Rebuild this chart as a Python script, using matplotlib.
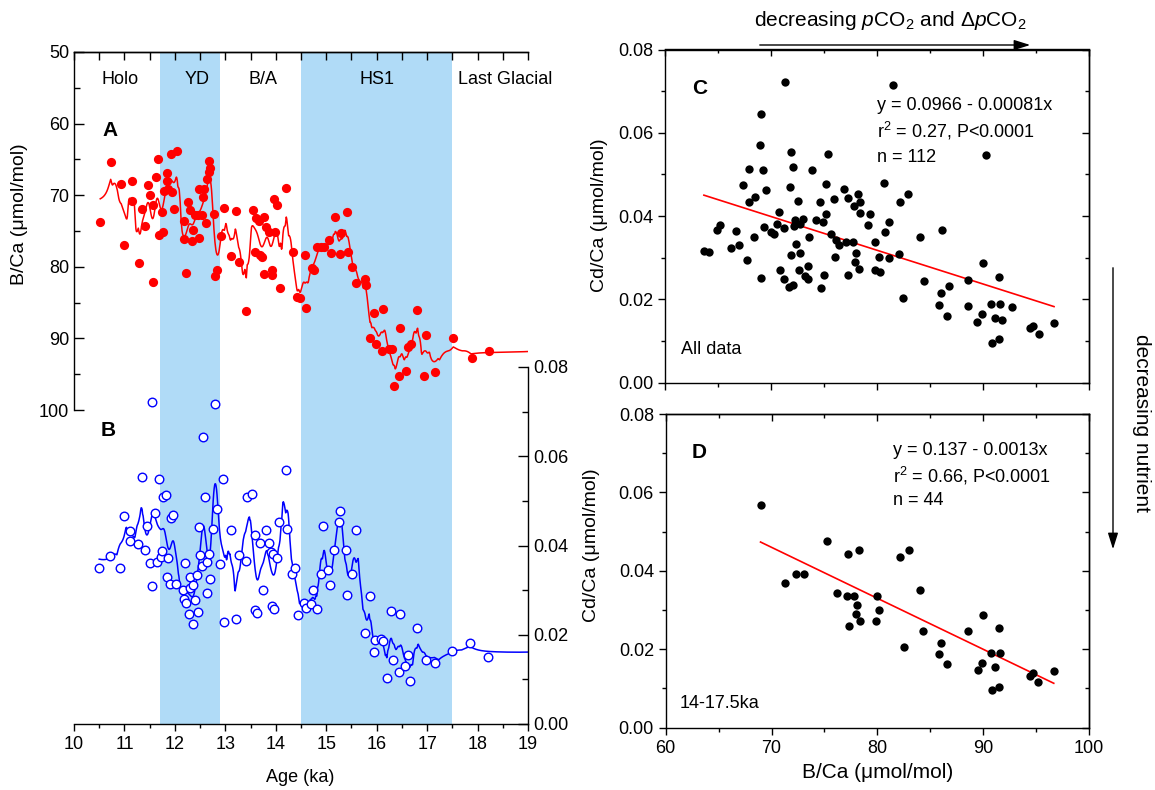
import matplotlib
matplotlib.use("Agg")
import matplotlib.pyplot as plt
import matplotlib.patches as mpatches
from matplotlib.ticker import FormatStrFormatter
import numpy as np

plt.rcParams["font.family"] = ["Liberation Sans", "DejaVu Sans"]
plt.rcParams["mathtext.fontset"] = "custom"
plt.rcParams["mathtext.rm"] = "Liberation Sans"
plt.rcParams["mathtext.it"] = "Liberation Sans:italic"
plt.rcParams["axes.linewidth"] = 1.0

# ---- panel A: B/Ca record (red) ----
bca_age = [
    10.52, 10.73, 10.93, 11.14, 11.14, 11.00, 11.28, 11.35, 11.41, 11.47,
    11.51, 11.57, 11.57, 11.62, 11.66, 11.69, 11.76, 11.74, 11.78, 11.84,
    11.84, 11.86, 11.94, 11.93, 12.04, 11.99, 12.19, 12.18, 12.22, 12.26,
    12.29, 12.33, 12.35, 12.39, 12.45, 12.47, 12.48, 12.53, 12.55, 12.58,
    12.62, 12.64, 12.68, 12.70, 12.68, 12.78, 12.80, 12.84, 12.91, 12.98,
    13.12, 13.22, 13.28, 13.41, 13.55, 13.60, 13.66, 13.59, 13.69, 13.72,
    13.77, 13.76, 13.81, 13.86, 13.98, 13.93, 13.93, 13.96, 14.03, 14.08,
    14.21, 14.34, 14.43, 14.48, 14.57, 14.59,
    14.72, 14.76, 14.81, 14.89, 14.96, 15.06, 15.10, 15.17, 15.27, 15.29,
    15.41, 15.44, 15.52, 15.60, 15.76, 15.78, 15.95, 16.12,
    15.87, 15.99, 16.10, 16.24, 16.31, 16.35, 16.46, 16.45, 16.58, 16.63,
    16.69, 16.80, 16.98, 16.93, 17.16, 17.51, 17.88, 18.23,
]
bca_val = [
    73.7, 65.3, 68.4, 68.0, 70.8, 76.9, 79.4, 71.9, 74.3, 68.6,
    70.0, 71.4, 82.1, 67.4, 64.9, 75.5, 75.1, 72.3, 69.4, 68.0,
    66.9, 69.2, 69.6, 64.2, 63.8, 71.9, 73.6, 76.1, 80.8, 70.9,
    72.0, 76.4, 74.8, 72.8, 72.7, 69.1, 76.0, 72.8, 70.3, 69.1,
    73.9, 67.8, 66.7, 66.2, 65.2, 72.6, 81.3, 80.5, 75.7, 71.8,
    78.5, 72.2, 79.3, 86.2, 72.1, 73.2, 73.6, 77.9, 78.3, 78.6,
    73.0, 81.0, 74.5, 75.1, 75.1, 80.4, 81.1, 70.6, 71.4, 83.0,
    69.0, 77.9, 84.2, 84.4, 78.3, 85.8,
    80.1, 80.4, 77.3, 77.2, 77.3, 76.3, 78.1, 73.1, 78.2, 75.3,
    72.4, 78.0, 80.0, 82.2, 81.7, 82.5, 86.5, 85.9,
    90.0, 90.8, 91.7, 91.5, 91.5, 96.7, 88.6, 95.3, 94.5, 91.2,
    90.8, 86.0, 89.5, 95.2, 94.7, 89.9, 92.8, 91.8,
]

# ---- panel B: Cd/Ca record (blue) ----
cdca_age = [
    10.50, 10.71, 10.92, 10.99, 11.12, 11.12, 11.27, 11.41, 11.34, 11.45,
    11.51, 11.55, 11.55, 11.61, 11.65, 11.68, 11.72, 11.74, 11.77, 11.82,
    11.87, 11.84, 11.92, 11.97, 11.90, 12.03, 12.16, 12.21, 12.19, 12.23,
    12.29, 12.30, 12.27, 12.35, 12.36, 12.40, 12.44, 12.46, 12.47, 12.50,
    12.54, 12.56, 12.60, 12.63, 12.67, 12.63, 12.69, 12.76, 12.79, 12.83,
    12.90, 12.95, 12.97, 13.11, 13.21, 13.27, 13.40, 13.42, 13.53, 13.58,
    13.69, 13.75, 13.80, 13.87, 13.91, 13.95, 14.02, 13.59, 13.63, 13.92,
    13.97, 14.06, 14.20, 14.22, 14.33, 14.39, 14.45, 14.55, 14.60, 14.69,
    14.81, 14.73, 14.90, 14.93, 15.04, 15.08, 15.16, 15.25, 15.28, 15.39,
    15.51, 15.42, 15.59, 15.86, 15.76, 16.28, 16.46, 16.80, 15.97, 16.09,
    16.12, 15.94, 16.21, 16.33, 16.45, 16.56, 16.63, 16.67, 16.97, 17.15,
    17.49, 17.86, 18.21,
]
cdca_val = [
    0.0349, 0.0376, 0.0349, 0.0466, 0.0433, 0.0410, 0.0404, 0.0389, 0.0554, 0.0443,
    0.0361, 0.0721, 0.0309, 0.0473, 0.0364, 0.0549, 0.0375, 0.0387, 0.0508, 0.0514,
    0.0373, 0.0329, 0.0461, 0.0468, 0.0314, 0.0314, 0.0300, 0.0361, 0.0280, 0.0272,
    0.0330, 0.0304, 0.0246, 0.0225, 0.0311, 0.0277, 0.0334, 0.0252, 0.0441, 0.0379,
    0.0354, 0.0644, 0.0509, 0.0364, 0.0380, 0.0293, 0.0324, 0.0436, 0.0716, 0.0481,
    0.0358, 0.0549, 0.0229, 0.0434, 0.0235, 0.0378, 0.0366, 0.0509, 0.0516, 0.0423,
    0.0405, 0.0300, 0.0434, 0.0405, 0.0385, 0.0380, 0.0371, 0.0255, 0.0248, 0.0264,
    0.0258, 0.0453, 0.0569, 0.0437, 0.0336, 0.0350, 0.0245, 0.0272, 0.0259, 0.0270,
    0.0258, 0.0301, 0.0336, 0.0443, 0.0344, 0.0312, 0.0391, 0.0452, 0.0477, 0.0390,
    0.0336, 0.0290, 0.0434, 0.0287, 0.0203, 0.0254, 0.0246, 0.0215, 0.0188, 0.0190,
    0.0186, 0.0161, 0.0104, 0.0143, 0.0116, 0.0131, 0.0155, 0.0096, 0.0143, 0.0137,
    0.0164, 0.0182, 0.0150,
]

# ---- panel C: all data, Cd/Ca vs B/Ca ----
all_bca = [
    63.67, 64.11, 64.87, 65.15, 66.22, 66.66, 66.94, 67.35, 67.72, 67.97,
    67.97, 68.35, 68.51, 68.95, 69.07, 69.04, 69.26, 69.36, 69.51, 70.02,
    70.24, 70.52, 70.77, 70.86, 71.18, 71.24, 71.30, 71.74, 72.06, 71.81,
    71.87, 72.03, 71.87, 72.21, 72.31, 72.40, 72.50, 72.62, 72.75, 72.78,
    73.06, 73.25, 73.53, 73.50, 73.63, 73.85, 74.25, 74.63, 74.73, 74.95,
    75.04, 75.17, 75.20, 75.35, 75.64, 75.95, 76.04, 76.17, 76.39, 76.89,
    77.05, 77.24, 77.27, 77.71, 77.84, 77.96, 78.02, 78.24, 78.30, 78.37,
    78.43, 79.18, 79.34, 79.84, 79.81,
    81.48, 90.25, 80.69, 82.92, 82.20, 81.10, 80.75, 80.22, 81.16, 82.08,
    80.25, 84.03, 86.13, 82.48, 84.40, 86.04, 86.82, 85.85, 86.60, 88.55,
    89.97, 91.48, 88.55, 89.87, 89.46, 90.79, 91.60, 92.74, 91.13, 91.76,
    90.82, 91.48, 94.43, 94.69, 95.25, 96.70,
]
all_cdca = [
    0.0316, 0.0314, 0.0366, 0.0378, 0.0324, 0.0365, 0.0330, 0.0474, 0.0294, 0.0514,
    0.0433, 0.0350, 0.0445, 0.0570, 0.0644, 0.0251, 0.0510, 0.0374, 0.0462, 0.0362,
    0.0356, 0.0380, 0.0410, 0.0271, 0.0249, 0.0371, 0.0722, 0.0230, 0.0234, 0.0469,
    0.0554, 0.0517, 0.0306, 0.0376, 0.0390, 0.0333, 0.0436, 0.0271, 0.0311, 0.0382,
    0.0392, 0.0255, 0.0249, 0.0281, 0.0350, 0.0510, 0.0390, 0.0434, 0.0227, 0.0387,
    0.0258, 0.0406, 0.0478, 0.0549, 0.0358, 0.0442, 0.0302, 0.0342, 0.0330, 0.0466,
    0.0338, 0.0444, 0.0258, 0.0338, 0.0425, 0.0290, 0.0312, 0.0453, 0.0272, 0.0407,
    0.0434, 0.0379, 0.0405, 0.0338, 0.0270,
    0.0714, 0.0547, 0.0480, 0.0454, 0.0435, 0.0386, 0.0362, 0.0301, 0.0300, 0.0308,
    0.0265, 0.0350, 0.0366, 0.0204, 0.0245, 0.0216, 0.0231, 0.0186, 0.0161, 0.0247,
    0.0288, 0.0254, 0.0184, 0.0166, 0.0145, 0.0189, 0.0190, 0.0182, 0.0155, 0.0151,
    0.0095, 0.0105, 0.0131, 0.0137, 0.0116, 0.0144,
]

# ---- panel D: 14-17.5 ka ----
hs1_bca = [
    68.96, 71.23, 72.33, 73.08, 75.22, 76.23, 77.26, 77.11, 77.80, 78.05,
    77.99, 78.33, 77.30, 78.27, 79.94, 80.19, 79.87, 82.17, 82.96, 82.52,
    84.06, 84.34, 86.01, 85.85, 86.60, 88.58, 90.00, 89.87, 89.50, 91.45,
    90.75, 91.60, 91.16, 90.82, 91.45, 94.43, 94.69, 95.22, 96.67,
]
hs1_cdca = [
    0.0569, 0.0370, 0.0391, 0.0391, 0.0477, 0.0344, 0.0444, 0.0336, 0.0336, 0.0312,
    0.0289, 0.0272, 0.0259, 0.0452, 0.0336, 0.0301, 0.0271, 0.0436, 0.0454, 0.0205,
    0.0351, 0.0246, 0.0215, 0.0187, 0.0162, 0.0247, 0.0288, 0.0166, 0.0146, 0.0254,
    0.0190, 0.0191, 0.0155, 0.0097, 0.0105, 0.0131, 0.0139, 0.0117, 0.0145,
]

# regressions as printed on the figure
fit_all = (0.0966, -0.00081)
fit_hs1 = (0.137, -0.0013)

intervals = [(11.7, 12.9), (14.5, 17.5)]
interval_names = ["Holo", "YD", "B/A", "HS1", "Last Glacial"]

SHADE = "#b0dbf7"
W, H = 1155, 790


def at(px, py):
    return px / W, 1 - py / H


def smooth(x, y, grid, k=3, h_min=0.05):
    # kernel smoother (local constant) with adaptive bandwidth
    x = np.asarray(x, float)
    y = np.asarray(y, float)
    out = []
    for g in grid:
        d = np.abs(x - g)
        h = max(h_min, np.sort(d)[k - 1] * 0.6)
        w = np.exp(-0.5 * (d / h) ** 2)
        out.append((w * y).sum() / w.sum())
    return np.array(out)


def mirror_ticks(ax, xmaj, xmin, ymaj, ymin):
    top = ax.secondary_xaxis("top")
    top.set_xticks(xmaj)
    top.set_xticks(xmin, minor=True)
    top.tick_params(which="both", direction="in", labeltop=False)
    top.tick_params(which="major", length=5, width=1)
    top.tick_params(which="minor", length=3, width=1)
    right = ax.secondary_yaxis("right")
    right.set_yticks(ymaj)
    right.set_yticks(ymin, minor=True)
    right.tick_params(which="both", direction="in", labelright=False)
    right.tick_params(which="major", length=5, width=1)
    right.tick_params(which="minor", length=3, width=1)


fig = plt.figure(figsize=(11.55, 7.9), dpi=100)

# ---------------- left panel (A + B) ----------------
axA = fig.add_axes([74 / W, 1 - 724 / H, (528 - 74) / W, (724 - 52) / H])
for lo, hi in intervals:
    axA.axvspan(lo, hi, color=SHADE, lw=0, zorder=0)

grid_a = np.linspace(min(bca_age), 19, 900)
axA.plot(grid_a, smooth(bca_age, bca_val, grid_a), color="red", lw=1.1, zorder=2)
axA.scatter(bca_age, bca_val, s=44, color="red", lw=0, zorder=3)
axA.set_xlim(10, 19)
axA.set_ylim(50 + 672 / 7.16, 50)
axA.set_xticks(range(10, 20))
axA.set_xticks(np.arange(10.5, 19, 1.0), minor=True)
axA.set_yticks(range(50, 101, 10))
axA.set_yticks(range(55, 100, 10), minor=True)
axA.tick_params(axis="x", which="both", direction="out", labelsize=13, width=1)
axA.tick_params(axis="x", which="major", length=5)
axA.tick_params(axis="x", which="minor", length=3)
axA.tick_params(axis="y", which="both", direction="in", labelsize=13, width=1)
axA.tick_params(axis="y", which="major", length=7)
axA.tick_params(axis="y", which="minor", length=4)
axA.spines["left"].set_bounds(50, 100)
axA.spines["right"].set_visible(False)

topA = axA.secondary_xaxis("top")
topA.set_xticks(range(10, 20))
topA.set_xticks(np.arange(10.5, 19, 1.0), minor=True)
topA.tick_params(which="both", direction="in", labeltop=False, width=1)
topA.tick_params(which="major", length=6)
topA.tick_params(which="minor", length=6)

axB = axA.twinx()
grid_b = np.linspace(min(cdca_age), 19, 900)
axB.plot(grid_b, smooth(cdca_age, cdca_val, grid_b), color="blue", lw=1.1, zorder=2)
axB.scatter(cdca_age, cdca_val, s=38, facecolor="white", edgecolor="blue",
            lw=1.0, zorder=3)
axB.set_ylim(0, 0.08 * 672 / 357)
axB.set_yticks(np.arange(0, 0.081, 0.02))
axB.set_yticks(np.arange(0.01, 0.08, 0.02), minor=True)
axB.yaxis.set_major_formatter(FormatStrFormatter("%.2f"))
axB.tick_params(axis="y", which="both", direction="in", labelsize=13, width=1)
axB.tick_params(axis="y", which="major", length=7)
axB.tick_params(axis="y", which="minor", length=4)
axB.spines["right"].set_bounds(0, 0.08)
for side in ("left", "top", "bottom"):
    axB.spines[side].set_visible(False)

for name, px in zip(interval_names, [120, 197, 263, 377, 505]):
    fig.text(*at(px, 80), name, ha="center", va="center", fontsize=13)
fig.text(*at(110, 131), "A", ha="center", va="center", fontsize=15, fontweight="bold")
fig.text(*at(108, 431), "B", ha="center", va="center", fontsize=15, fontweight="bold")
fig.text(*at(300, 778), "Age (ka)", ha="center", va="center", fontsize=13)
fig.text(*at(20, 214), "B/Ca (\u03bcmol/mol)", ha="center", va="center",
         rotation=90, fontsize=14)
fig.text(*at(592, 545), "Cd/Ca (\u03bcmol/mol)", ha="center", va="center",
         rotation=90, fontsize=14)

# ---------------- panel C ----------------
axC = fig.add_axes([665 / W, 1 - 382.7 / H, 424 / W, 333.2 / H])
axC.scatter(all_bca, all_cdca, s=36, color="black", lw=0, zorder=3)
xs = np.array([min(all_bca), max(all_bca)])
axC.plot(xs, fit_all[0] + fit_all[1] * xs, color="red", lw=1.2, zorder=2)

# ---------------- panel D ----------------
axD = fig.add_axes([665.7 / W, 1 - 727.7 / H, 423.3 / W, 313.7 / H])
axD.scatter(hs1_bca, hs1_cdca, s=36, color="black", lw=0, zorder=3)
xs = np.array([min(hs1_bca), max(hs1_bca)])
axD.plot(xs, fit_hs1[0] + fit_hs1[1] * xs, color="red", lw=1.2, zorder=2)

for ax in (axC, axD):
    ax.set_xlim(60, 100)
    ax.set_ylim(0, 0.08)
    ax.set_xticks(range(60, 101, 10))
    ax.set_xticks(range(65, 100, 10), minor=True)
    ax.set_yticks(np.arange(0, 0.081, 0.02))
    ax.set_yticks(np.arange(0.01, 0.08, 0.02), minor=True)
    ax.yaxis.set_major_formatter(FormatStrFormatter("%.2f"))
    ax.tick_params(which="both", direction="out", labelsize=13, width=1)
    ax.tick_params(which="major", length=5)
    ax.tick_params(which="minor", length=3)
    mirror_ticks(ax, range(60, 101, 10), range(65, 100, 10),
                 np.arange(0, 0.081, 0.02), np.arange(0.01, 0.08, 0.02))
axC.tick_params(labelbottom=False)

fig.text(*at(700, 89), "C", ha="center", va="center", fontsize=15, fontweight="bold")
fig.text(*at(699, 453), "D", ha="center", va="center", fontsize=15, fontweight="bold")
eq_all = ["y = 0.0966 - 0.00081x", "r$^2$ = 0.27, P<0.0001", "n = 112"]
for txt, py in zip(eq_all, [105, 131, 157]):
    fig.text(*at(877, py), txt, ha="left", va="center", fontsize=13)
eq_hs1 = ["y = 0.137 - 0.0013x", "r$^2$ = 0.66, P<0.0001", "n = 44"]
for txt, py in zip(eq_hs1, [450, 476, 500]):
    fig.text(*at(893, py), txt, ha="left", va="center", fontsize=13)
fig.text(*at(681, 349), "All data", ha="left", va="center", fontsize=13)
fig.text(*at(680, 703), "14-17.5ka", ha="left", va="center", fontsize=13)
fig.text(*at(878, 773), "B/Ca (\u03bcmol/mol)", ha="center", va="center", fontsize=15)
fig.text(*at(600, 215), "Cd/Ca (\u03bcmol/mol)", ha="center", va="center",
         rotation=90, fontsize=14)

fig.text(*at(890, 20), "decreasing $\\mathit{p}$CO$_2$ and \u0394$\\mathit{p}$CO$_2$",
         ha="center", va="center", fontsize=15)
fig.add_artist(mpatches.FancyArrowPatch(
    at(757, 45), at(1033, 45), transform=fig.transFigure,
    arrowstyle="-|>,head_length=0.7,head_width=0.22", mutation_scale=14,
    lw=1.0, color="black"))
fig.text(*at(1141, 423), "decreasing nutrient", ha="center", va="center",
         rotation=270, fontsize=15)
fig.add_artist(mpatches.FancyArrowPatch(
    at(1113, 265), at(1113, 552), transform=fig.transFigure,
    arrowstyle="-|>,head_length=0.7,head_width=0.22", mutation_scale=14,
    lw=1.0, color="black"))

fig.savefig("out.png", dpi=100)
